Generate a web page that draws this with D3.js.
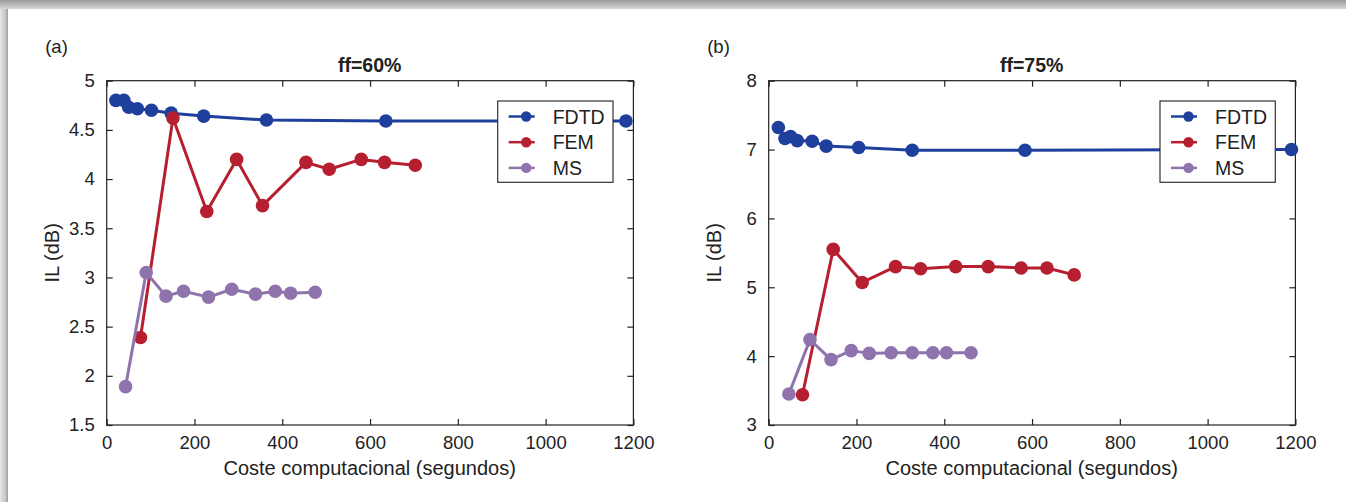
<!DOCTYPE html>
<html>
<head>
<meta charset="utf-8">
<script src="https://cdn.jsdelivr.net/npm/d3@7"></script>
<style>
  body { margin: 0; background: #fff; }
  svg { display: block; font-family: "Liberation Sans", Arial, sans-serif; }
</style>
</head>
<body>
<svg id="chart" width="1346" height="502"></svg>
<script>
// ---- data ----
var seriesNames = ["FDTD", "FEM", "MS"];

// panel (a) ff=60%
var fdtdA_x = [21, 39, 50, 70, 102, 147, 221, 364, 636, 1183];
var fdtdA_y = [4.80, 4.80, 4.73, 4.715, 4.70, 4.67, 4.64, 4.60, 4.59, 4.59];
var femA_x = [77, 151, 228, 296, 355, 454, 507, 580, 633, 703];
var femA_y = [2.39, 4.62, 3.67, 4.20, 3.73, 4.17, 4.10, 4.20, 4.17, 4.14];
var msA_x = [43, 90, 135, 175, 232, 285, 339, 384, 419, 475];
var msA_y = [1.89, 3.05, 2.81, 2.86, 2.80, 2.88, 2.83, 2.86, 2.84, 2.85];

// panel (b) ff=75%
var fdtdB_x = [22, 37, 50, 65, 99, 131, 205, 327, 584, 1191];
var fdtdB_y = [7.32, 7.16, 7.19, 7.13, 7.12, 7.05, 7.03, 6.99, 6.99, 7.00];
var femB_x = [77, 147, 213, 289, 346, 426, 500, 575, 634, 696];
var femB_y = [3.44, 5.55, 5.07, 5.30, 5.27, 5.30, 5.30, 5.28, 5.28, 5.18];
var msB_x = [46, 94, 142, 188, 229, 279, 327, 374, 405, 461];
var msB_y = [3.45, 4.24, 3.95, 4.08, 4.04, 4.05, 4.05, 4.05, 4.05, 4.05];

var xTicks = [0, 200, 400, 600, 800, 1000, 1200];
var yTicksA = [1.5, 2, 2.5, 3, 3.5, 4, 4.5, 5];
var yTicksB = [3, 4, 5, 6, 7, 8];

var colors = {"FDTD": "#1f3f9c", "FEM": "#b61f2f", "MS": "#8f73ad"};

var panels = [
  {tag: "(a)", title: "ff=60%", left: 106.7, yDomain: [1.5, 5], yTicks: yTicksA,
   series: [[fdtdA_x, fdtdA_y], [femA_x, femA_y], [msA_x, msA_y]], legendX: 497.7},
  {tag: "(b)", title: "ff=75%", left: 768.7, yDomain: [3, 8], yTicks: yTicksB,
   series: [[fdtdB_x, fdtdB_y], [femB_x, femB_y], [msB_x, msB_y]], legendX: 1160}
];

var svg = d3.select("#chart");

// frame shading (top and left)
var defs = svg.append("defs");
var gTop = defs.append("linearGradient").attr("id", "shadeTop").attr("x1", 0).attr("y1", 0).attr("x2", 0).attr("y2", 1);
gTop.append("stop").attr("offset", "0%").attr("stop-color", "#9a9a9a");
gTop.append("stop").attr("offset", "100%").attr("stop-color", "#d8d8d8");
var gLeft = defs.append("linearGradient").attr("id", "shadeLeft").attr("x1", 0).attr("y1", 0).attr("x2", 1).attr("y2", 0);
gLeft.append("stop").attr("offset", "0%").attr("stop-color", "#e6e6e6");
gLeft.append("stop").attr("offset", "70%").attr("stop-color", "#c4c4c4");
gLeft.append("stop").attr("offset", "100%").attr("stop-color", "#9a9a9a");
svg.append("rect").attr("x", 0).attr("y", 0).attr("width", 1346).attr("height", 9).attr("fill", "url(#shadeTop)");
svg.append("rect").attr("x", 0).attr("y", 9).attr("width", 8).attr("height", 493).attr("fill", "url(#shadeLeft)");

var plotTop = 80.7, plotBottom = 425, plotW = 526.7;

panels.forEach(function(p){
  var xScale = d3.scaleLinear().domain([0, 1200]).range([p.left, p.left + plotW]);
  var yScale = d3.scaleLinear().domain(p.yDomain).range([plotBottom, plotTop]);
  var g = svg.append("g");

  // axes box
  g.append("rect").attr("x", p.left).attr("y", plotTop).attr("width", plotW).attr("height", plotBottom - plotTop)
    .attr("fill", "none").attr("stroke", "#222").attr("stroke-width", 1.2);

  // bottom/left axes with labels, mirrored ticks on top/right
  var xAxis = d3.axisBottom(xScale).tickValues(xTicks).tickSize(-6).tickPadding(11).tickFormat(d3.format("d"));
  var xg = g.append("g").attr("transform", "translate(0," + plotBottom + ")").call(xAxis);
  var xTop = d3.axisTop(xScale).tickValues(xTicks).tickSize(-6).tickFormat("");
  var xtg = g.append("g").attr("transform", "translate(0," + plotTop + ")").call(xTop);
  var yAxis = d3.axisLeft(yScale).tickValues(p.yTicks).tickSize(-6).tickPadding(12).tickFormat(d3.format("~g"));
  var yg = g.append("g").attr("transform", "translate(" + p.left + ",0)").call(yAxis);
  var yRight = d3.axisRight(yScale).tickValues(p.yTicks).tickSize(-6).tickFormat("");
  var yrg = g.append("g").attr("transform", "translate(" + (p.left + plotW) + ",0)").call(yRight);

  [xg, xtg, yg, yrg].forEach(function(a){
    a.select(".domain").remove();
    a.selectAll(".tick line").attr("stroke", "#222").attr("stroke-width", 1.2);
    a.selectAll(".tick text").attr("fill", "#222").style("font-size", "18.5px");
  });

  // series
  p.series.forEach(function(s, k){
    var name = seriesNames[k];
    var pts = s[0].map(function(x, i){ return [x, s[1][i]]; });
    var line = d3.line().x(function(d){ return xScale(d[0]); }).y(function(d){ return yScale(d[1]); });
    g.append("path").datum(pts).attr("d", line).attr("fill", "none")
      .attr("stroke", colors[name]).attr("stroke-width", 3).attr("stroke-linejoin", "round");
    g.selectAll(".pt" + k).data(pts).enter().append("circle")
      .attr("cx", function(d){ return xScale(d[0]); })
      .attr("cy", function(d){ return yScale(d[1]); })
      .attr("r", 6.8).attr("fill", colors[name]);
  });

  // legend
  var lg = g.append("g").attr("transform", "translate(" + p.legendX + "," + 101 + ")");
  lg.append("rect").attr("width", 115.3).attr("height", 81.3).attr("fill", "#fff")
    .attr("stroke", "#333").attr("stroke-width", 1.2);
  seriesNames.forEach(function(name, k){
    var yy = 15.5 + k * 25.7;
    lg.append("line").attr("x1", 11).attr("x2", 37).attr("y1", yy).attr("y2", yy)
      .attr("stroke", colors[name]).attr("stroke-width", 2.5);
    lg.append("circle").attr("cx", 28.5).attr("cy", yy).attr("r", 5.2).attr("fill", colors[name]);
    lg.append("text").attr("x", 55).attr("y", yy + 7).attr("fill", "#222")
      .style("font-size", "19.5px").text(name);
  });

  // labels
  g.append("text").attr("x", p.left - 61.5).attr("y", 53).attr("fill", "#222")
    .style("font-size", "18.5px").text(p.tag);
  g.append("text").attr("x", p.left + 263).attr("y", 72).attr("text-anchor", "middle").attr("fill", "#222")
    .style("font-size", "19.5px").style("font-weight", "bold").text(p.title);
  g.append("text").attr("x", p.left + 263).attr("y", 475).attr("text-anchor", "middle").attr("fill", "#222")
    .style("font-size", "20px").text("Coste computacional (segundos)");
  g.append("text").attr("transform", "translate(" + (p.left - 47.5) + "," + ((plotTop + plotBottom) / 2) + ") rotate(-90)")
    .attr("text-anchor", "middle").attr("fill", "#222").style("font-size", "20px").text("IL (dB)");
});
</script>
</body>
</html>
